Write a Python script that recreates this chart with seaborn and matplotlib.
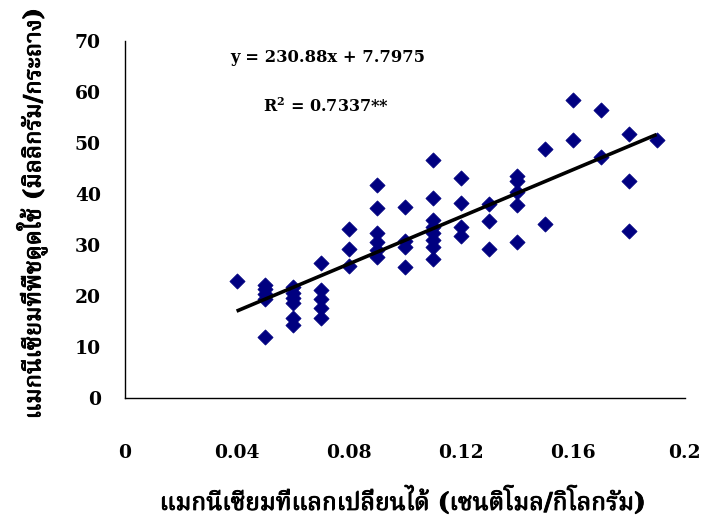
import matplotlib
matplotlib.use("Agg")
import matplotlib.pyplot as plt
import matplotlib.patheffects as pe
from matplotlib import font_manager as fm
from matplotlib.ft2font import FT2Font
import numpy as np
import pandas as pd
import seaborn as sns

# Exchangeable Mg (cmol/kg) and Mg uptake (mg/pot)
exch_mg = (
    [0.04]
    + [0.05] * 5
    + [0.06] * 6
    + [0.07] * 5
    + [0.08] * 3
    + [0.09] * 6
    + [0.10] * 4
    + [0.11] * 8
    + [0.12] * 4
    + [0.13] * 3
    + [0.14] * 5
    + [0.15] * 2
    + [0.16] * 2
    + [0.17] * 2
    + [0.18] * 3
    + [0.19]
)
mg_uptake = (
    [23.0]
    + [22.2, 21.3, 20.4, 19.4, 12.0]
    + [21.8, 20.6, 19.6, 18.6, 15.6, 14.4]
    + [26.5, 21.2, 19.5, 17.6, 15.6]
    + [33.2, 29.3, 25.8]
    + [41.8, 37.2, 32.3, 30.6, 29.0, 27.6]
    + [37.5, 30.8, 29.6, 25.6]
    + [46.6, 39.2, 34.9, 33.6, 32.3, 31.0, 29.7, 27.2]
    + [43.1, 38.3, 33.6, 31.8]
    + [38.1, 34.8, 29.2]
    + [43.6, 42.6, 40.4, 37.9, 30.6]
    + [48.9, 34.1]
    + [58.4, 50.5]
    + [56.4, 47.3]
    + [51.7, 42.6, 32.8]
    + [50.5]
)

slope = 230.88
intercept = 7.7975
r_squared = 0.7337

x_ticks = [0, 0.04, 0.08, 0.12, 0.16, 0.2]
x_tick_labels = ["0", "0.04", "0.08", "0.12", "0.16", "0.2"]
y_ticks = [0, 10, 20, 30, 40, 50, 60, 70]

x_title = "แมกนีเซียมที่แลกเปลี่ยนได้ (เซนติโมล/กิโลกรัม)"
y_title = "แมกนีเซียมที่พืชดูดใช้ (มิลลิกรัม/กระถาง)"


def find_thai_family():
    preferred = ["Norasi", "TlwgTypo", "Noto Serif Thai", "Noto Sans Thai",
                 "Garuda", "Loma", "Kinnari", "Sawasdee", "Umpush"]
    found = {}
    for path in fm.findSystemFonts():
        try:
            font = FT2Font(path)
            if 0x0E01 in font.get_charmap():
                name = fm.FontProperties(fname=path).get_name()
                found.setdefault(name, path)
        except Exception:
            continue
    for name in preferred:
        if name in found:
            return name
    return next(iter(found), None)


sns.set_theme(style="white")
thai = find_thai_family()
families = ["DejaVu Serif"] + ([thai] if thai else [])
plt.rcParams["font.family"] = families
plt.rcParams["mathtext.fontset"] = "dejavuserif"

df = pd.DataFrame({"exch": exch_mg, "uptake": mg_uptake})

fig = plt.figure(figsize=(7.01, 5.18), dpi=100)
ax = fig.add_axes([124.6 / 701, 120 / 518, 560 / 701, 357 / 518])

sns.scatterplot(data=df, x="exch", y="uptake", marker="D", s=60,
                color="#000080", edgecolor="#000080", linewidth=0.5,
                ax=ax, zorder=3)

# trend line from the fitted equation over the observed range
xs = np.array([min(exch_mg), max(exch_mg)])
ax.plot(xs, slope * xs + intercept, color="black", lw=2.6, zorder=4,
        solid_capstyle="butt")

ax.set_xlim(0, 0.2)
ax.set_ylim(0, 70)
ax.set_xticks(x_ticks)
ax.set_xticklabels(x_tick_labels)
ax.set_yticks(y_ticks)
ax.set_xlabel("")
ax.set_ylabel("")

for side in ["top", "right"]:
    ax.spines[side].set_visible(False)
for side in ["left", "bottom"]:
    ax.spines[side].set_color("black")
    ax.spines[side].set_linewidth(1.0)

ax.tick_params(axis="x", direction="out", length=7, width=1, color="black",
               pad=26, labelsize=13.5)
ax.tick_params(axis="y", direction="out", length=7, width=1, color="black",
               pad=10, labelsize=13.5)
for lab in ax.get_xticklabels() + ax.get_yticklabels():
    lab.set_fontweight("bold")
    lab.set_color("black")

ax.text(0.0727, 66.7, f"y = {slope}x + {intercept}", ha="center", va="center",
        fontsize=11.8, fontweight="bold", color="black")
ax.text(0.0494, 57.2, r"R$^{\mathbf{2}}$" + f" = {r_squared}**", ha="left",
        va="center", fontsize=11.5, fontweight="bold", color="black")

# heavier strokes for the Thai axis titles
heavy = [pe.withStroke(linewidth=0.7, foreground="black")]
fig.text(402 / 701, 1 - 500 / 518, x_title, ha="center", va="center",
         fontsize=17.5, fontweight="bold", color="black", path_effects=heavy)
fig.text(32 / 701, 1 - 214 / 518, y_title, ha="center", va="center",
         rotation=90, fontsize=17, fontweight="bold", color="black",
         path_effects=heavy)

fig.savefig("out.png", dpi=100)
